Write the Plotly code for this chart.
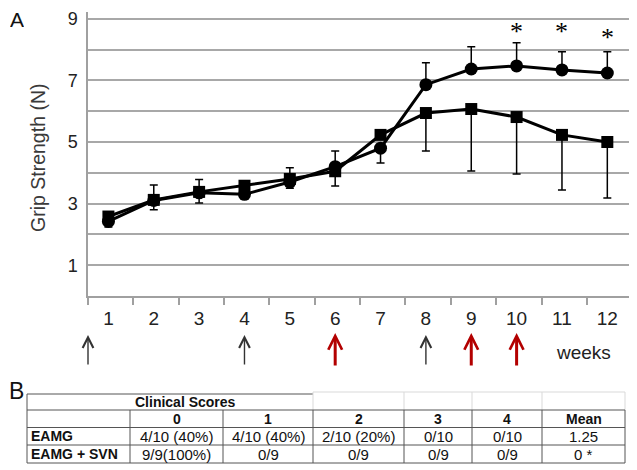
import plotly.graph_objects as go

# ---------------- data ----------------
weeks = list(range(1, 13))
week_labels = [str(w) for w in weeks]

# circles (EAMG + SVN)
svn_mean = [2.42, 3.10, 3.35, 3.30, 3.70, 4.20, 4.80, 6.86, 7.37, 7.47, 7.34, 7.24]
svn_err_plus = [0, 0, 0, 0, 0, 0.51, 0, 0.71, 0.72, 0.75, 0.59, 0.69]
svn_err_minus = [0.18, 0.30, 0.33, 0.16, 0.20, 0, 0.48, 0, 0, 0, 0, 0]

# squares (EAMG)
eamg_mean = [2.58, 3.12, 3.38, 3.58, 3.80, 4.05, 5.23, 5.94, 6.07, 5.81, 5.23, 5.00]
eamg_err_plus = [0, 0.48, 0.40, 0, 0.36, 0, 0, 0, 0, 0, 0, 0]
eamg_err_minus = [0, 0, 0, 0, 0, 0.48, 0, 1.23, 2.01, 1.85, 1.79, 1.82]

# significance stars
sig_weeks = [10, 11, 12]
sig_y = [8.75, 8.75, 8.55]

y_tick_vals = list(range(0, 10))
y_tick_text = ["", "1", "", "3", "", "5", "", "7", "", "9"]

# injection arrows
x_start = 0.55
black_arrow_weeks = [x_start, 4, 8]
red_arrow_weeks = [6, 9, 10]

# table B
score_cols = ["0", "1", "2", "3", "4", "Mean"]
row_labels = ["EAMG", "EAMG + SVN"]
eamg_scores = ["4/10 (40%)", "4/10 (40%)", "2/10 (20%)", "0/10", "0/10", "1.25"]
svn_scores = ["9/9(100%)", "0/9", "0/9", "0/9", "0/9", "0 *"]
table_rows = [eamg_scores, svn_scores]

# ---------------- layout geometry ----------------
# the page body adds an 8px offset; figure is sized so the window shows it fully
OFF = 8
W, H = 637 - OFF, 470 - OFF
PL, PR, PT, PB = 88 - OFF, 7, 12 - OFF, 174
PW = W - PL - PR
PH = H - PT - PB


def px(X):
    # X given in window pixels
    return (X - OFF - PL) / PW


def py(Y):
    return (H - PB - (Y - OFF)) / PH


FONT = "Liberation Sans, Arial, sans-serif"

fig = go.Figure()

fig.add_trace(go.Scatter(
    x=weeks, y=eamg_mean, name="EAMG", mode="lines+markers",
    line=dict(color="black", width=3),
    marker=dict(symbol="square", size=12, color="black"),
    error_y=dict(type="data", symmetric=False, array=eamg_err_plus,
                 arrayminus=eamg_err_minus, color="black", thickness=1.5, width=4),
    cliponaxis=False,
))
fig.add_trace(go.Scatter(
    x=weeks, y=svn_mean, name="EAMG + SVN", mode="lines+markers",
    line=dict(color="black", width=3),
    marker=dict(symbol="circle", size=13, color="black"),
    error_y=dict(type="data", symmetric=False, array=svn_err_plus,
                 arrayminus=svn_err_minus, color="black", thickness=1.5, width=4),
    cliponaxis=False,
))

annotations = []
shapes = []


def label(x, y, text, size, xanchor="center", color="#111", family=FONT, **kw):
    d = dict(x=x, y=y, xref="paper", yref="paper", text=text, showarrow=False,
             xanchor=xanchor, yanchor="middle", font=dict(family=family, size=size, color=color))
    d.update(kw)
    annotations.append(d)


# stars
for w, yv in zip(sig_weeks, sig_y):
    annotations.append(dict(x=w, y=yv, xref="x", yref="y", text="*", showarrow=False,
                            xanchor="center", yanchor="middle",
                            font=dict(family="Liberation Serif, Times New Roman, serif", size=26, color="black"),
                            yshift=-5))

# arrows
for w in black_arrow_weeks:
    annotations.append(dict(x=w, y=py(335), xref="x", yref="paper", text="", showarrow=True,
                            ax=0, ay=31, arrowhead=5, arrowsize=1.5, arrowwidth=1.4,
                            arrowcolor="#333333"))
for w in red_arrow_weeks:
    annotations.append(dict(x=w, y=py(333), xref="x", yref="paper", text="", showarrow=True,
                            ax=0, ay=34, arrowhead=5, arrowsize=0.9, arrowwidth=3,
                            arrowcolor="#b30000"))

label(px(583), py(352), "weeks", 19, color="#222")

# panel letters
label(px(17), py(19), "A", 21, height=20, borderpad=0)
label(px(16), py(391), "B", 23)

# y title
label(px(38), py(158), "Grip Strength (N)", 19.5, color="#3a3a3a", textangle=-90)

# ---------------- table ----------------
col_edges = [27, 130, 223, 313, 404, 472, 542, 625]
row_edges = [394, 410, 427.5, 445, 463]
dark = "#555555"
light = "#d9d9d9"


def hline(x0, x1, yy, color, width=1):
    shapes.append(dict(type="line", xref="paper", yref="paper", x0=px(x0), x1=px(x1),
                       y0=py(yy), y1=py(yy), line=dict(color=color, width=width)))


def vline(xx, y0, y1, color, width=1):
    shapes.append(dict(type="line", xref="paper", yref="paper", x0=px(xx), x1=px(xx),
                       y0=py(y0), y1=py(y1), line=dict(color=color, width=width)))


# top row borders
hline(col_edges[0], col_edges[3], row_edges[0], dark)
hline(col_edges[3], col_edges[-1], row_edges[0] - 2, light)
vline(col_edges[0], row_edges[0], row_edges[1], dark)
for xx in col_edges[3:]:
    vline(xx, row_edges[0] - 2, row_edges[1], light)
# body
for yy in row_edges[1:]:
    hline(col_edges[0], col_edges[-1], yy, dark)
for xx in col_edges:
    vline(xx, row_edges[1], row_edges[-1], dark)

label(px(133), py((row_edges[0] + row_edges[1]) / 2), "<b>Clinical Scores</b>", 14, xanchor="left")
centers = [(col_edges[i + 1] + col_edges[i + 2]) / 2 for i in range(len(score_cols))]
hy = (row_edges[1] + row_edges[2]) / 2
for c, lab in zip(centers, score_cols):
    label(px(c), py(hy), "<b>%s</b>" % lab, 14)
for r, (lab, vals) in enumerate(zip(row_labels, table_rows)):
    ry = (row_edges[2 + r] + row_edges[3 + r]) / 2
    label(px(col_edges[0] + 2), py(ry), "<b>%s</b>" % lab, 14, xanchor="left")
    for c, v in zip(centers, vals):
        label(px(c), py(ry), v, 15)

fig.update_layout(
    width=W, height=H,
    margin=dict(l=PL, r=PR, t=PT, b=PB, autoexpand=False),
    paper_bgcolor="white", plot_bgcolor="white",
    showlegend=False,
    annotations=annotations,
    shapes=shapes,
    xaxis=dict(range=[x_start, 12.5], tickvals=weeks, ticktext=week_labels, ticks="",
               showline=True, linecolor="#a0a0a0", linewidth=1.5, showgrid=False, zeroline=False,
               tickfont=dict(family=FONT, size=19, color="#222"), ticklabelstandoff=4,
               automargin=False,
               minor=dict(tick0=x_start, dtick=1, ticks="outside", ticklen=7,
                          tickcolor="#a0a0a0", tickwidth=1.5, showgrid=False)),
    yaxis=dict(range=[0, 9.22], tickvals=y_tick_vals, ticktext=y_tick_text, ticks="",
               showline=True, linecolor="#a0a0a0", linewidth=1.5, showgrid=True,
               gridcolor="#a8a8a8", gridwidth=1.5, zeroline=False, automargin=False,
               tickfont=dict(family=FONT, size=18, color="#222"), ticklabelstandoff=5),
)

fig.write_html("out.html")
